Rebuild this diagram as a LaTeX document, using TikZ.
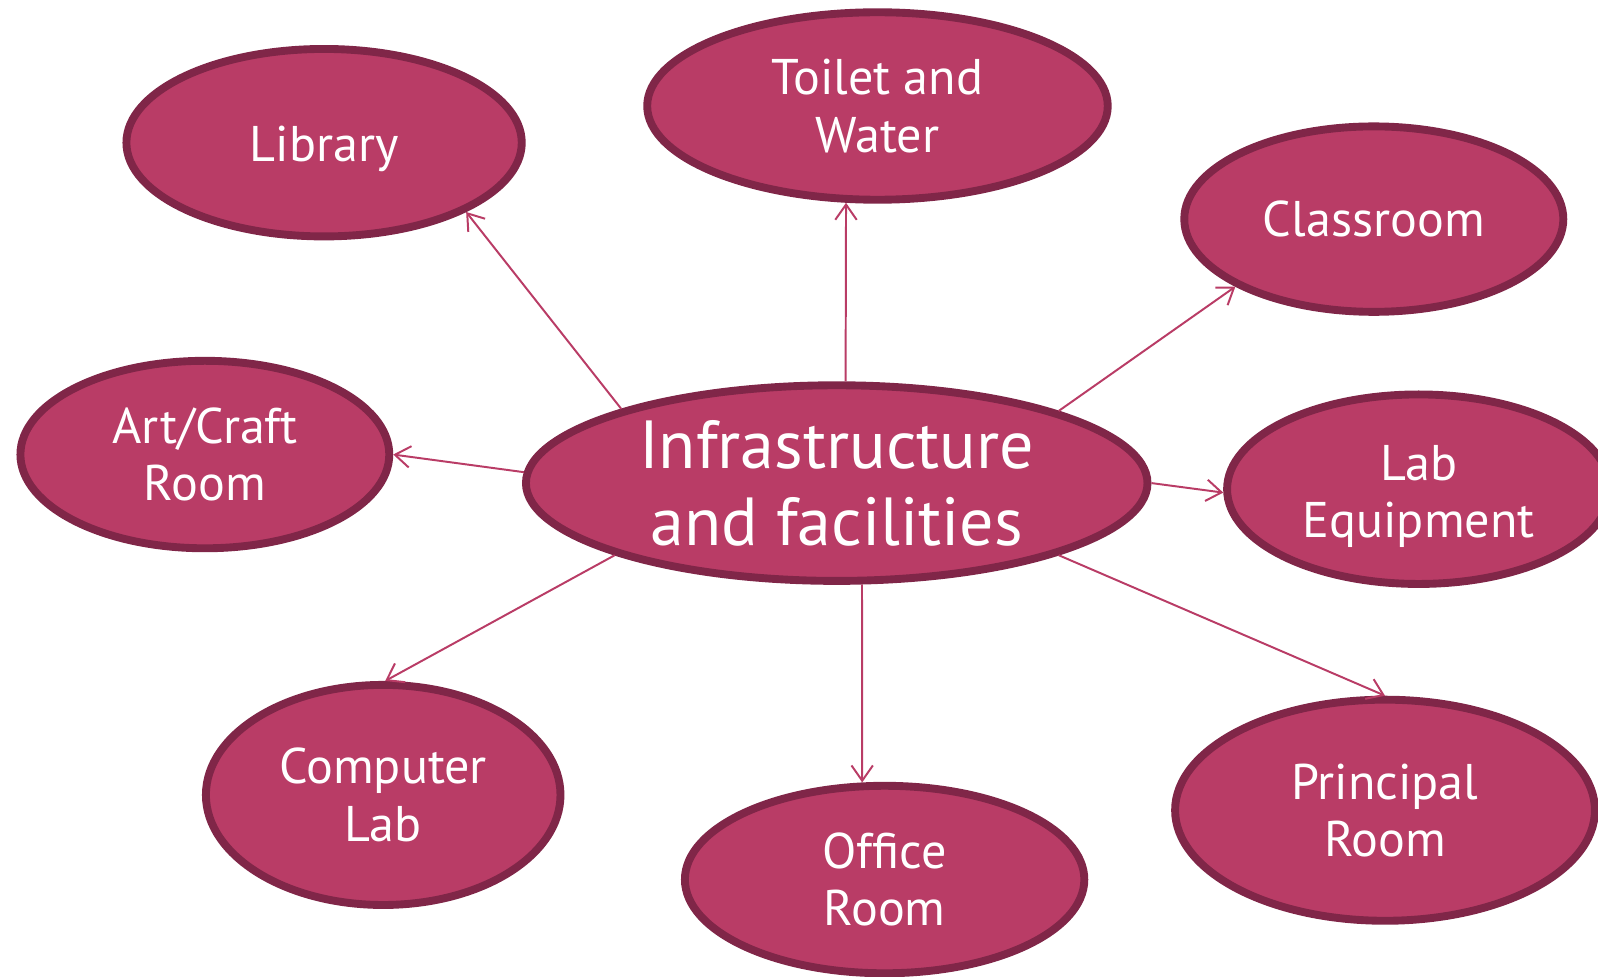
\documentclass[tikz,border=0pt]{standalone}
\usepackage{fontspec}
\setmainfont{PT Sans}
\usetikzlibrary{shapes.geometric,arrows.meta}

\definecolor{bubblefill}{RGB}{185,60,102}
\definecolor{bubbleline}{RGB}{128,38,72}

\newcommand{\lowered}[2]{\raisebox{-#1}[\height][\depth]{#2}}

\tikzset{
    bubble/.style={ellipse,draw=bubbleline,fill=bubblefill,line width=4.4pt,text=white,align=center,inner sep=0pt,font=\fontsize{28}{32}\selectfont},
    hub/.style={bubble,font=\fontsize{38}{43}\selectfont},
    link/.style={draw=bubblefill,line width=1.1pt,-{Straight Barb[length=0.3cm,width=0.42cm]}}
}

\begin{document}
\begin{tikzpicture}[x=0.02cm,y=-0.02cm]
                \useasboundingbox (0,0) rectangle (1568,958);
                \clip (0,0) rectangle (1568,958);
                \node[hub,minimum width=12.2cm,minimum height=3.84cm] (infra) at (821,474) {Infrastructure\\and facilities};
                \node[bubble,minimum width=7.76cm,minimum height=3.68cm] (library) at (318,140) {\lowered{3.4pt}{Library}};
                \node[bubble,minimum width=9.04cm,minimum height=3.68cm] (toilet) at (861,104) {Toilet and\\Water};
                \node[bubble,minimum width=7.44cm,minimum height=3.64cm] (classroom) at (1348,215) {Classroom};
                \node[bubble,minimum width=7.24cm,minimum height=3.68cm] (art) at (201,446) {Art/Craft\\Room};
                \node[bubble,minimum width=7.52cm,minimum height=3.72cm] (lab) at (1392,480) {\lowered{4pt}{Lab}\\\lowered{4pt}{Equipment}};
                \node[bubble,minimum width=6.96cm,minimum height=4.32cm] (computer) at (376,780) {Computer\\Lab};
                \node[bubble,minimum width=7.84cm,minimum height=3.68cm] (office) at (868,863) {Office\\Room};
                \node[bubble,minimum width=8.24cm,minimum height=4.34cm] (principal) at (1359,795) {Principal\\Room};
                \draw[link] (infra.161.7) -- (library.-26.6);
                \draw[link] (infra.85.4) -- (toilet.-108);
                \draw[link] (infra.18.2) -- (classroom.206);
                \draw[link] (infra.178.5) -- (art.0);
                \draw[link] (infra.0) -- (lab.181);
                \draw[link] (infra.198) -- (computer.89);
                \draw[link] (infra.-76.6) -- (office.103.6);
                \draw[link] (infra.-18) -- (principal.90);
            \end{tikzpicture}
\end{document}
